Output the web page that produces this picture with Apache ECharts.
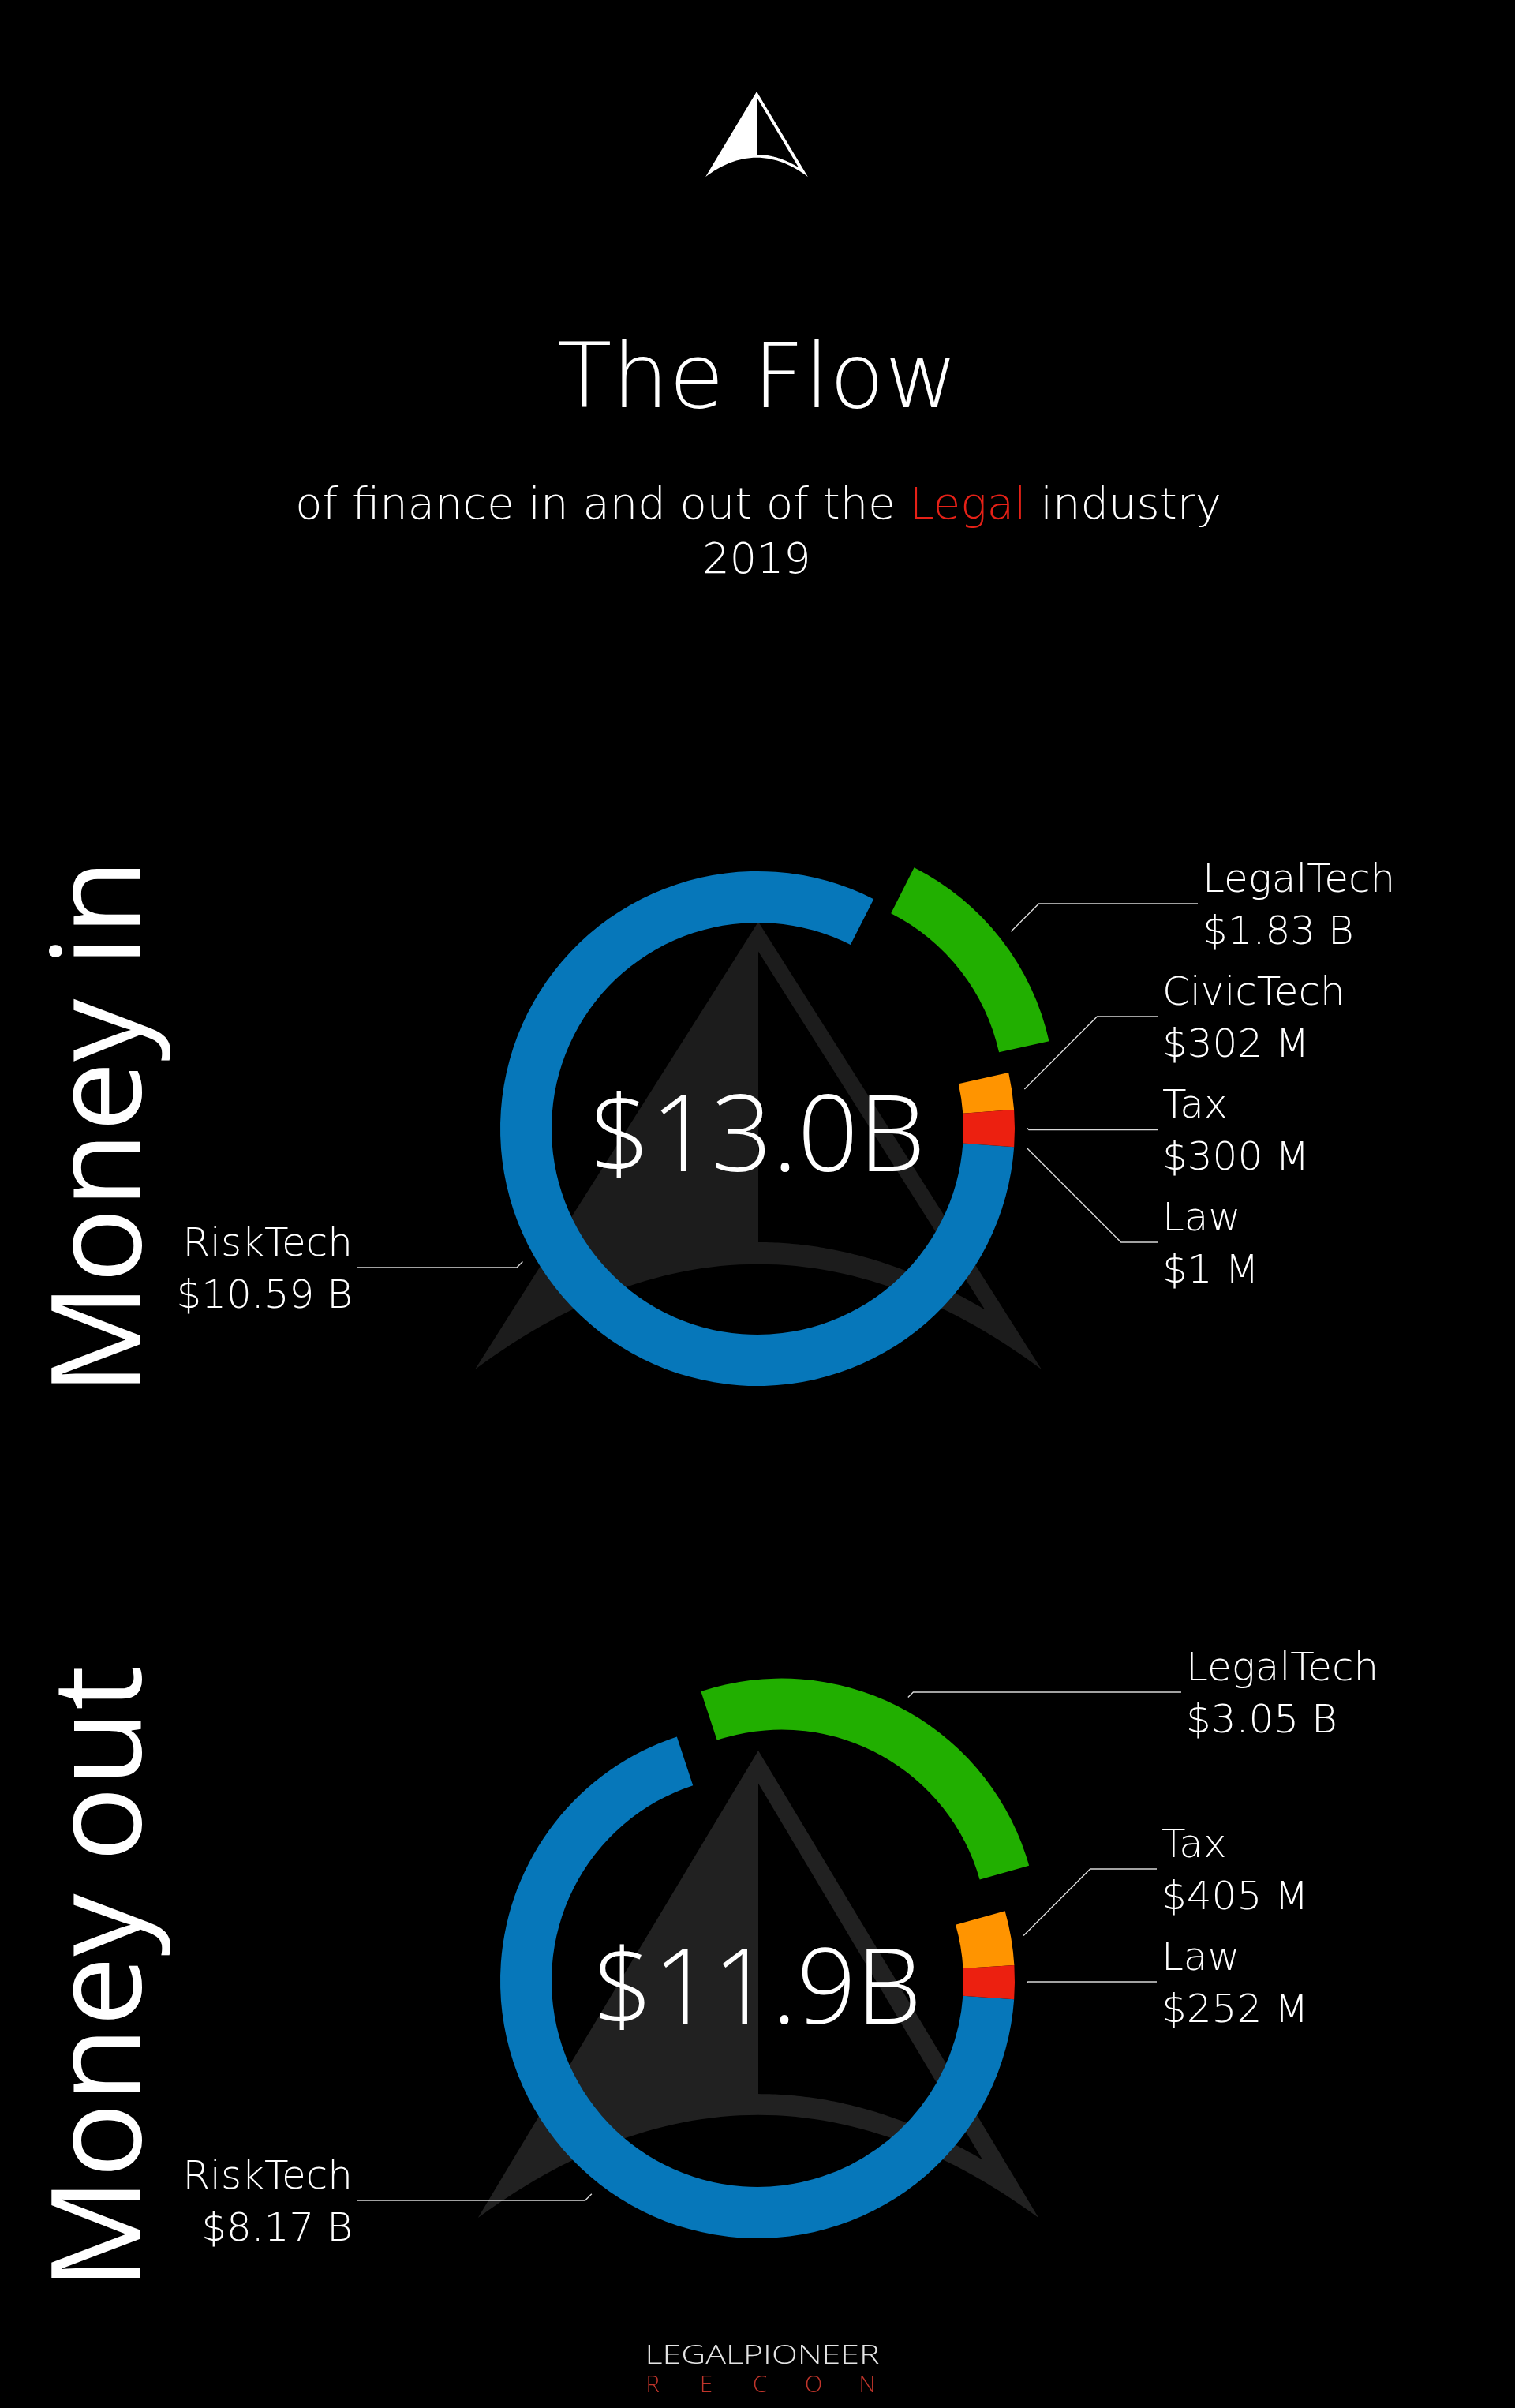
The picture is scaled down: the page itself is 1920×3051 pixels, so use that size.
<!DOCTYPE html>
<html>
<head>
<meta charset="utf-8">
<title>The Flow</title>
<script src="https://cdn.jsdelivr.net/npm/echarts@6/dist/echarts.min.js"></script>
<style>
html,body{margin:0;padding:0;background:#000;}
#chart{width:1920px;height:3051px;}
</style>
</head>
<body>
<div id="chart"></div>
<script>
// ---------------- DATA ----------------
const inCategories = ['RiskTech', 'LegalTech', 'CivicTech', 'Tax', 'Law'];
const inValues = [10.59, 1.83, 0.302, 0.300, 0.001];          // $ billions
const inValueLabels = ['$10.59 B', '$1.83 B', '$302 M', '$300 M', '$1 M'];

const outCategories = ['RiskTech', 'LegalTech', 'Tax', 'Law'];
const outValues = [8.17, 3.05, 0.405, 0.252];                  // $ billions
const outValueLabels = ['$8.17 B', '$3.05 B', '$405 M', '$252 M'];

const highlightedCategory = 'LegalTech';

// ---------------- LAYOUT / STYLE (kept apart from the data) ----------------
const FONT = '"Open Sans", "Noto Sans", sans-serif';
const FONT_THIN = '"DejaVu Sans", "Open Sans", sans-serif';
const sliceColors = ['#0677BA', '#21AF00', '#FF9400', '#EC2010', '#7f7f7f'];
const RING = [261, 326];
const LABEL_R = 342;
const SEL_OFFSET = 65;
const START_ANGLE = -4.1;
const inCenter = [960, 1430];
const outCenter = [960, 2510];
// label placement per slice: [label y relative to centre, end of leader line x relative to centre]
const inPlacement = [[176, -507], [-285, 558], [-142, 507], [1.5, 507], [144, 507]];
const outPlacement = [[278, -507], [-366, 537], [-142, 506], [1, 506]];

function totalText(vals) {
  const s = vals.reduce((a, b) => a + b, 0);
  return '$' + s.toFixed(1) + 'B';
}

function richStyles() {
  const base = { fontFamily: FONT_THIN, fontSize: 50, fontWeight: 200, color: '#ffffff', lineHeight: 66 };
  return {
    nl: Object.assign({}, base, { align: 'left' }),
    vl: Object.assign({}, base, { align: 'left' }),
    nr: Object.assign({}, base, { align: 'right' }),
    vr: Object.assign({}, base, { align: 'right' })
  };
}

function buildDonut(id, center, cats, vals, valLabels, placement) {
  const ring = {
    type: 'pie',
    id: id + '-ring',
    center: center,
    radius: RING,
    startAngle: START_ANGLE,
    clockwise: true,
    silent: true,
    avoidLabelOverlap: false,
    selectedMode: 'single',
    selectedOffset: SEL_OFFSET,
    label: { show: false },
    labelLine: { show: false },
    emphasis: { disabled: true },
    select: { itemStyle: { borderWidth: 0 } },
    z: 3,
    data: cats.map(function (c, i) {
      return {
        name: c,
        value: vals[i],
        selected: c === highlightedCategory,
        itemStyle: { color: sliceColors[i], borderWidth: 0 },
        select: { itemStyle: { color: sliceColors[i], borderWidth: 0 } }
      };
    })
  };
  const selIndex = cats.indexOf(highlightedCategory);
  const labels = {
    type: 'pie',
    id: id + '-labels',
    center: center,
    radius: [LABEL_R, LABEL_R],
    startAngle: START_ANGLE,
    clockwise: true,
    silent: true,
    avoidLabelOverlap: false,
    emphasis: { disabled: true },
    itemStyle: { color: 'rgba(0,0,0,0)', borderWidth: 0 },
    z: 4,
    label: {
      show: true,
      position: 'outside',
      color: '#ffffff',
      padding: [10, 0, 0, 0],
      formatter: function (p) {
        const side = placement[p.dataIndex][1] < 0 ? 'r' : 'l';
        return '{n' + side + '|' + p.name + '}\n{v' + side + '|' + valLabels[p.dataIndex] + '}';
      },
      rich: richStyles()
    },
    labelLine: {
      show: true,
      length: 10,
      length2: 10,
      smooth: false,
      lineStyle: { color: '#d8d8d8', width: 1.4 }
    },
    labelLayout: function (params) {
      const pl = placement[params.dataIndex];
      const pts = params.labelLinePoints;
      if (!pts) return {};
      let p0 = [pts[0][0], pts[0][1]];
      let dx = pts[1][0] - pts[0][0], dy = pts[1][1] - pts[0][1];
      const len = Math.sqrt(dx * dx + dy * dy) || 1;
      dx /= len; dy /= len;
      if (params.dataIndex === selIndex) {
        p0 = [p0[0] + dx * SEL_OFFSET, p0[1] + dy * SEL_OFFSET];
      }
      const side = pl[1] < 0 ? -1 : 1;
      const y = center[1] + pl[0];
      const xEnd = center[0] + pl[1];
      const elbow = [p0[0] + side * Math.abs(y - p0[1]), y];
      return {
        x: xEnd + side * 6,
        y: y,
        align: side > 0 ? 'left' : 'right',
        verticalAlign: 'middle',
        labelLinePoints: [p0, elbow, [xEnd, y]]
      };
    },
    data: cats.map(function (c, i) { return { name: c, value: vals[i] }; })
  };
  return [ring, labels];
}

// ---------------- LOGO SHAPES (decoration) ----------------
function quad(p0, c, p1, s) {
  const a = (1 - s) * (1 - s), b = 2 * s * (1 - s), d = s * s;
  return [a * p0[0] + b * c[0] + d * p1[0], a * p0[1] + b * c[1] + d * p1[1]];
}
function logo(ax, ay, h, ratio, vLine, vArc, inset, fill, z) {
  const hw = ratio * h;
  const L = [ax - hw, ay + h], R = [ax + hw, ay + h], C = [ax, ay + (2 * vArc - 1) * h];
  const outer = [[ax, ay], R];
  for (let k = 1; k < 60; k++) outer.push(quad(R, C, L, k / 60));
  outer.push(L);
  const band = vArc - vLine;
  const hole = [[ax, ay + (inset / ratio) * h], [ax, ay + vLine * h]];
  const bL = [-ratio, 1 - band], bC = [0, 2 * vArc - 1 - band], bR = [ratio, 1 - band];
  for (let k = 1; k <= 100; k++) {
    const s = 0.5 + k / 200;
    const p = quad(bL, bC, bR, s);
    if (p[0] >= ratio * p[1] - inset) break;
    hole.push([ax + p[0] * h, ay + p[1] * h]);
  }
  return [
    { type: 'polygon', silent: true, z: z, shape: { points: outer }, style: { fill: fill } },
    { type: 'polygon', silent: true, z: z + 1, shape: { points: hole }, style: { fill: '#000000' } }
  ];
}

function txt(x, y, text, size, weight, color, extra, family) {
  return Object.assign({
    type: 'text', silent: true, x: x, y: y, z: 10,
    style: {
      text: text, fontFamily: family || FONT, fontSize: size, fontWeight: weight, fill: color,
      align: 'center', verticalAlign: 'middle'
    }
  }, extra || {});
}

const graphics = []
  .concat(logo(959, 116, 108, 0.60, 0.74, 0.775, 0.04, '#ffffff', 1))
  .concat(logo(961, 1168, 567, 0.633, 0.716, 0.765, 0.042, '#1c1c1c', 0))
  .concat(logo(961, 2218, 592, 0.60, 0.735, 0.78, 0.042, '#212121', 0));

graphics.push(txt(960, 486, 'The Flow', 114, 200, '#ffffff', null, FONT_THIN));
graphics.push({
  type: 'text', silent: true, x: 961, y: 642, z: 10,
  style: {
    text: 'of finance in and out of the {r|Legal} industry',
    fontFamily: FONT_THIN, fontSize: 56, fontWeight: 200, fill: '#ffffff',
    align: 'center', verticalAlign: 'middle',
    rich: { r: { fontFamily: FONT_THIN, fontSize: 56, fontWeight: 200, fill: '#E62117' } }
  }
});
graphics.push(txt(959, 712, '2019', 54, 200, '#ffffff', null, FONT_THIN));

graphics.push(txt(960, inCenter[1] + 16, totalText(inValues), 135, 300, '#ffffff'));
graphics.push(txt(960, outCenter[1] + 16, totalText(outValues), 132, 300, '#ffffff'));

graphics.push(txt(133, 1428, 'Money in', 158, 400, '#ffffff', { rotation: Math.PI / 2 }));
graphics.push(txt(133, 2506, 'Money out', 158, 400, '#ffffff', { rotation: Math.PI / 2 }));

graphics.push(txt(966, 2986, 'LEGALPIONEER', 33, 300, '#e4e4e4', { scaleX: 1.3 }));
const reconLetters = ['R', 'E', 'C', 'O', 'N'];
reconLetters.forEach(function (ch, i) {
  graphics.push(txt(827 + i * 68, 3023, ch, 29, 300, '#c0352b'));
});

// ---------------- CHART ----------------
const chart = echarts.init(document.getElementById('chart'), null, { renderer: 'canvas', width: 1920, height: 3051 });
chart.setOption({
  backgroundColor: '#000000',
  animation: false,
  textStyle: { fontFamily: FONT },
  graphic: { elements: graphics },
  series: []
    .concat(buildDonut('in', inCenter, inCategories, inValues, inValueLabels, inPlacement))
    .concat(buildDonut('out', outCenter, outCategories, outValues, outValueLabels, outPlacement))
});
</script>
</body>
</html>
